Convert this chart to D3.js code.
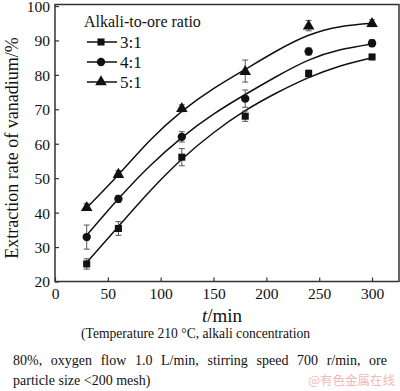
<!DOCTYPE html>
<html><head><meta charset="utf-8">
<script src="https://cdn.jsdelivr.net/npm/d3@7"></script>
<style>body{margin:0;background:#fff}svg{display:block}text{font-family:"Liberation Serif","Times New Roman",serif;fill:#111}</style>
</head><body><svg id="c" width="400" height="391"></svg>
<script>
const times = [30, 60, 120, 180, 240, 300];
const seriesNames = ["3:1", "4:1", "5:1"];
const ratio31 = [25.1, 35.4, 56.1, 68.0, 80.4, 85.2];
const ratio41 = [32.9, 44.0, 62.0, 73.1, 86.8, 89.2];
const ratio51 = [41.6, 51.2, 70.3, 81.1, 94.3, 95.0];
const err31 = [1.5, 2.0, 2.5, 1.5, 1.0, 0.6];
const err41 = [3.5, 1.0, 1.5, 2.5, 1.0, 1.0];
const err51 = [1.0, 1.0, 1.0, 3.2, 1.5, 1.0];
const fitTimes = [30, 60, 90, 120, 150, 180, 210, 240, 270, 300];
const fit31 = [25.5, 36.0, 46.3, 55.5, 63.2, 69.6, 74.8, 79.2, 82.6, 85.0];
const fit41 = [33.4, 44.0, 53.6, 61.8, 68.6, 74.3, 79.6, 84.3, 87.3, 89.0];
const fit51 = [41.4, 51.0, 61.0, 69.4, 76.0, 81.6, 87.0, 91.5, 94.0, 95.0];
const xTicks = [0, 50, 100, 150, 200, 250, 300];
const yTicks = [20, 30, 40, 50, 60, 70, 80, 90, 100];
const legendTitle = "Alkali-to-ore ratio";
const caption = ["(Temperature 210 °C, alkali concentration",
  "80%, oxygen flow 1.0 L/min, stirring speed 700 r/min, ore",
  "particle size <200 mesh)"];
const watermark = "@有色金属在线";

const svg = d3.select("#c");
const L = 55, R = 399, T = 4.5, B = 281.5;
const x = d3.scaleLinear().domain([0, 325.5]).range([L, R]);
const y = d3.scaleLinear().domain([20, 100]).range([B, T + 1.5]);
const ink = "#111";
const serif = "Liberation Serif";

// axes with inward ticks
const gx = svg.append("g").attr("transform", `translate(0,${B})`)
  .call(d3.axisBottom(x).tickValues(xTicks).tickSize(-4).tickFormat(d3.format("d")));
const gy = svg.append("g").attr("transform", `translate(${L},0)`)
  .call(d3.axisLeft(y).tickValues(yTicks).tickSize(-4).tickPadding(5).tickFormat(d3.format("d")));
[gx, gy].forEach(g => {
  g.attr("font-family", serif).attr("font-size", 15.5);
  g.select(".domain").remove();
  g.selectAll(".tick line").attr("stroke", "#333").attr("stroke-width", 1.2);
  g.selectAll(".tick text").attr("fill", ink);
});
gx.selectAll(".tick text").attr("y", 17.5).attr("dy", 0);
gy.selectAll(".tick text").attr("dy", "0.35em");

// frame
svg.append("rect").attr("x", L).attr("y", T).attr("width", R - L).attr("height", B - T)
  .attr("fill", "none").attr("stroke", "#333").attr("stroke-width", 1.5);

const series = [
  {name: seriesNames[0], v: ratio31, e: err31, f: fit31, m: "square"},
  {name: seriesNames[1], v: ratio41, e: err41, f: fit41, m: "circle"},
  {name: seriesNames[2], v: ratio51, e: err51, f: fit51, m: "triangle"}
];
const sym = {square: d3.symbol(d3.symbolSquare, 50), circle: d3.symbol(d3.symbolCircle, 55), triangle: d3.symbol(d3.symbolTriangle, 58)};

const line = d3.line().x((d, i) => x(fitTimes[i])).y(d => y(d)).curve(d3.curveNatural);
series.forEach(s => {
  svg.append("path").attr("d", line(s.f)).attr("fill", "none").attr("stroke", ink).attr("stroke-width", 1.5);
  const g = svg.append("g");
  times.forEach((t, i) => {
    const cx = x(t), y1 = y(s.v[i] + s.e[i]), y2 = y(s.v[i] - s.e[i]);
    g.append("line").attr("x1", cx).attr("x2", cx).attr("y1", y1).attr("y2", y2).attr("stroke", "#444").attr("stroke-width", 0.9);
    [y1, y2].forEach(yy => g.append("line").attr("x1", cx - 3).attr("x2", cx + 3).attr("y1", yy).attr("y2", yy).attr("stroke", "#444").attr("stroke-width", 0.9));
    g.append("path").attr("d", sym[s.m]()).attr("transform", `translate(${cx},${y(s.v[i]) + (s.m === "triangle" ? 0.5 : 0)})`).attr("fill", ink);
  });
});

// legend
svg.append("text").attr("x", 84).attr("y", 27).attr("font-size", 16).text(legendTitle);
series.forEach((s, i) => {
  const ly = 42 + i * 20;
  svg.append("line").attr("x1", 87).attr("x2", 117).attr("y1", ly).attr("y2", ly).attr("stroke", ink).attr("stroke-width", 1.5);
  svg.append("path").attr("d", sym[s.m]()).attr("transform", `translate(101,${ly})`).attr("fill", ink);
  svg.append("text").attr("x", 120).attr("y", ly + 6).attr("font-size", 17).text(s.name);
});

// axis titles
const xt = svg.append("text").attr("x", 222).attr("y", 322).attr("text-anchor", "middle").attr("font-size", 19);
xt.append("tspan").attr("font-style", "italic").text("t");
xt.append("tspan").text("/min");
svg.append("text").attr("transform", "translate(18,148) rotate(-90)").attr("text-anchor", "middle").attr("font-size", 18)
  .text("Extraction rate of vanadium/%");

// caption (line 2 justified by word spacing)
function justified(str, x0, yb, width, fs) {
  const t = svg.append("text").attr("x", x0).attr("y", yb).attr("font-size", fs).text(str);
  const w = t.node().getComputedTextLength();
  const n = (str.match(/ /g) || []).length;
  if (width && n) t.attr("word-spacing", (width - w) / n);
  return t;
}
justified(caption[0], 81, 338, 0, 13.6);
justified(caption[1], 13, 365, 374, 14);
justified(caption[2], 13, 385, 0, 14);
svg.append("text").attr("x", 395).attr("y", 385).attr("text-anchor", "end").attr("font-size", 12.5)
  .attr("font-family", "Noto Sans CJK SC").style("font-family", "Noto Sans CJK SC").style("fill", "#f2b8b8").text(watermark);
</script></body></html>
